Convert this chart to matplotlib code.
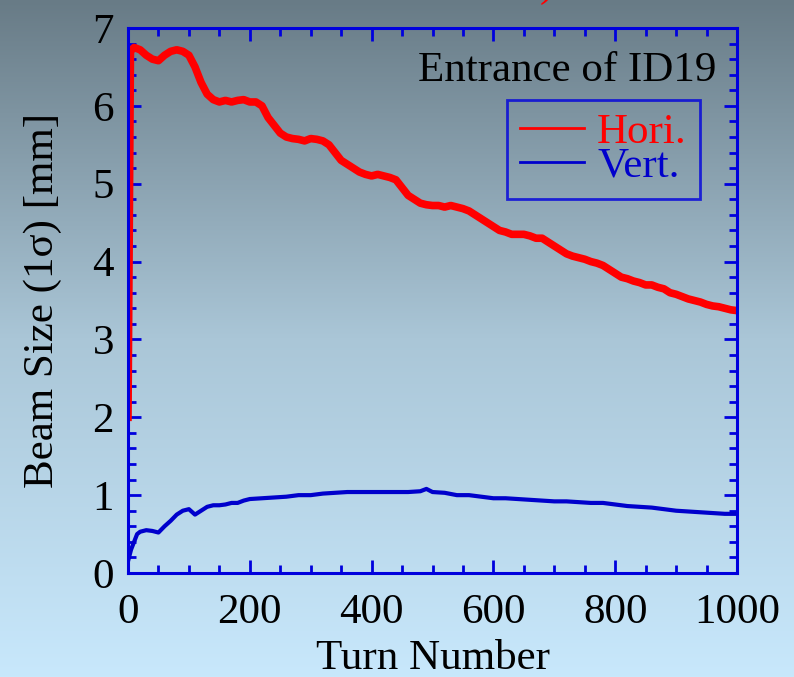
import numpy as np
import matplotlib
matplotlib.use("Agg")
import matplotlib.pyplot as plt
from matplotlib.ticker import MultipleLocator

# ---------------- data ----------------
turns_h = [0, 4, 10, 20, 30, 40, 50, 60, 70, 80, 90, 100, 110, 120, 130, 140, 150,
           160, 170, 180, 190, 200, 210, 220, 230, 240, 250, 260, 270, 280, 290,
           300, 310, 320, 330, 340, 350, 360, 370, 380, 390, 400, 410, 420, 430,
           440, 450, 460, 470, 480, 490, 500, 510, 520, 530, 540, 550, 560, 570,
           580, 590, 600, 610, 620, 630, 640, 650, 660, 670, 680, 690, 700, 710,
           720, 730, 740, 750, 760, 770, 780, 790, 800, 810, 820, 830, 840, 850,
           860, 870, 880, 890, 900, 910, 920, 930, 940, 950, 960, 970, 980, 990, 1000]
hori = [2.0, 6.7, 6.75, 6.72, 6.65, 6.6, 6.58, 6.65, 6.7, 6.72, 6.7, 6.65, 6.5,
        6.3, 6.15, 6.08, 6.05, 6.07, 6.05, 6.07, 6.08, 6.05, 6.05, 6.0, 5.85,
        5.75, 5.65, 5.6, 5.58, 5.57, 5.55, 5.58, 5.57, 5.55, 5.5, 5.4, 5.3,
        5.25, 5.2, 5.15, 5.12, 5.1, 5.12, 5.1, 5.08, 5.05, 4.95, 4.85, 4.8,
        4.75, 4.73, 4.72, 4.72, 4.7, 4.72, 4.7, 4.68, 4.65, 4.6, 4.55, 4.5,
        4.45, 4.4, 4.38, 4.35, 4.35, 4.35, 4.33, 4.3, 4.3, 4.25, 4.2, 4.15,
        4.1, 4.07, 4.05, 4.03, 4.0, 3.98, 3.95, 3.9, 3.85, 3.8, 3.78, 3.75,
        3.73, 3.7, 3.7, 3.67, 3.65, 3.6, 3.58, 3.55, 3.52, 3.5, 3.48, 3.45,
        3.43, 3.42, 3.4, 3.38, 3.37]

turns_v = [0, 5, 10, 15, 20, 30, 40, 50, 60, 70, 80, 90, 100, 110, 120, 130, 140,
           150, 160, 170, 180, 190, 200, 220, 240, 260, 280, 300, 320, 340, 360,
           380, 400, 420, 440, 460, 480, 490, 500, 520, 540, 560, 580, 600, 620,
           640, 660, 680, 700, 720, 740, 760, 780, 800, 820, 840, 860, 880, 900,
           920, 940, 960, 980, 1000]
vert = [0.15, 0.3, 0.4, 0.5, 0.53, 0.55, 0.54, 0.52, 0.6, 0.67, 0.75, 0.8, 0.82,
        0.75, 0.8, 0.85, 0.87, 0.87, 0.88, 0.9, 0.9, 0.93, 0.95, 0.96, 0.97,
        0.98, 1.0, 1.0, 1.02, 1.03, 1.04, 1.04, 1.04, 1.04, 1.04, 1.04, 1.05,
        1.08, 1.04, 1.03, 1.0, 1.0, 0.98, 0.96, 0.96, 0.95, 0.94, 0.93, 0.92,
        0.92, 0.91, 0.9, 0.9, 0.88, 0.86, 0.85, 0.84, 0.82, 0.8, 0.79, 0.78,
        0.77, 0.76, 0.76]

xticks = [0, 200, 400, 600, 800, 1000]
yticks = [0, 1, 2, 3, 4, 5, 6, 7]

BLUE = "#0000dd"
plt.rcParams['font.family'] = ['Liberation Serif', 'DejaVu Serif']
FS = 31

fig = plt.figure(figsize=(7.94, 6.77), dpi=100)

# gradient background
bg = fig.add_axes([0, 0, 1, 1], zorder=-10)
bg.axis('off')
pos = np.linspace(0, 1, 677)
stops = [0.0, 0.5, 1.0]
cols = np.array([[104, 123, 134], [170, 198, 215], [200, 232, 252]]) / 255.0
grad = np.stack([np.interp(pos, stops, cols[:, i]) for i in range(3)], axis=1)
bg.imshow(grad[:, None, :], aspect='auto', extent=[0, 1, 0, 1])
bg.set_xlim(0, 1); bg.set_ylim(0, 1)

ax = fig.add_axes([128 / 794, 104 / 677, 609 / 794, 545 / 677])
ax.set_facecolor('none')

ax.plot(turns_h, hori, color='#ff0000', lw=5.5, label='Hori.')
ax.plot(turns_v, vert, color='#0000cc', lw=3.0, label='Vert.')

ax.set_xlim(0, 1000)
ax.set_ylim(0, 7)
ax.set_xticks(xticks)
ax.set_yticks(yticks)
ax.xaxis.set_minor_locator(MultipleLocator(50))
ax.yaxis.set_minor_locator(MultipleLocator(0.2))
for s in ax.spines.values():
    s.set_color(BLUE)
    s.set_linewidth(2.2)
ax.tick_params(which='both', direction='in', top=True, right=True, color=BLUE,
               width=2, labelsize=FS)
ax.tick_params(axis='x', pad=15)
ax.tick_params(axis='y', pad=10)
ax.tick_params(which='major', length=9.5)
ax.tick_params(which='minor', length=6)

ax.set_xlabel('Turn Number', fontsize=FS, labelpad=5)
ax.set_ylabel('Beam Size (1σ) [mm]', fontsize=FS, labelpad=22)

ax.text(0.9655, 0.903, 'Entrance of ID19', transform=ax.transAxes, ha='right',
        va='baseline', fontsize=FS)

leg = ax.legend(loc='upper right', bbox_to_anchor=(0.939, 0.868), borderaxespad=0,
                fontsize=FS, labelcolor='linecolor', fancybox=False,
                handlelength=1.5, handletextpad=0.3, borderpad=0.3,
                labelspacing=-0.12)
leg.get_frame().set_edgecolor(BLUE)
leg.get_frame().set_linewidth(2)
leg.get_frame().set_facecolor('none')
for ln in leg.get_lines():
    ln.set_linewidth(2)

# clipped red fragment of slide title at the top
fig.text(540 / 794, 1 + 4 / 677, ')', color='red', fontsize=FS, va='baseline')

fig.savefig('out.png', dpi=100)
